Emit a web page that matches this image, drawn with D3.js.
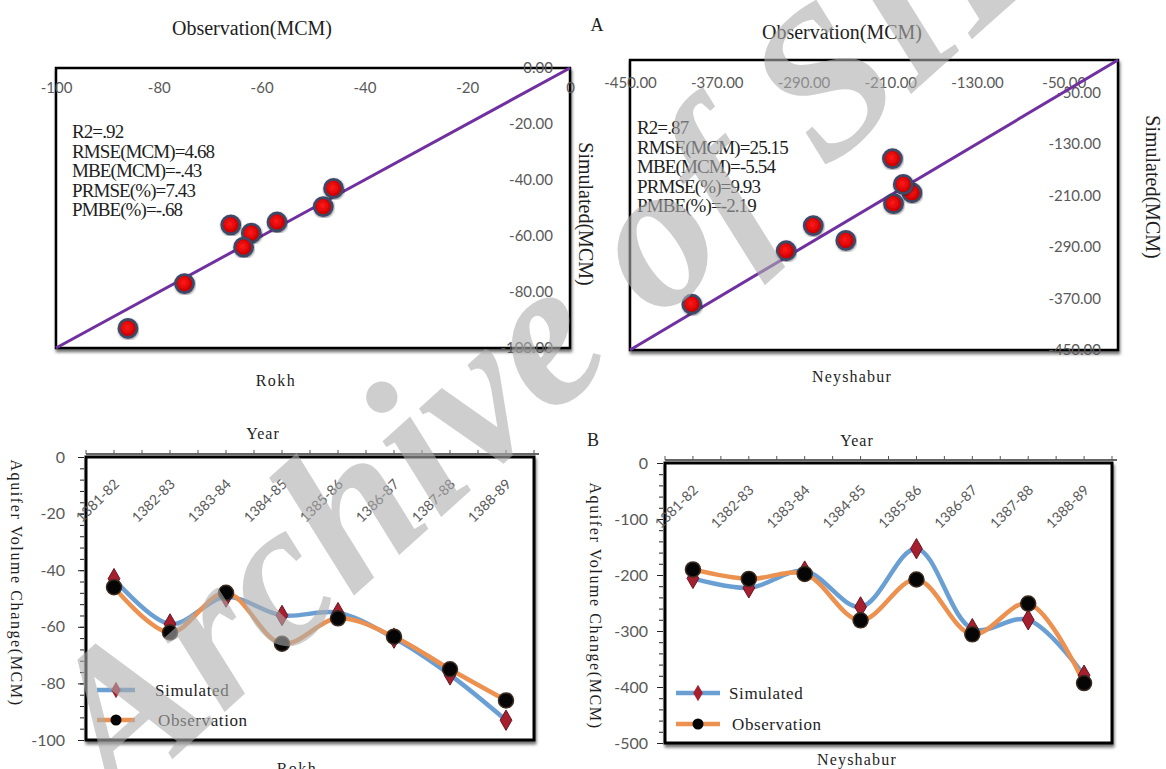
<!DOCTYPE html>
<html>
<head>
<meta charset="utf-8">
<script src="https://cdn.jsdelivr.net/npm/d3@7"></script>
<style>
  body { margin: 0; background: #fff; }
  svg { display: block; }
  .serif { font-family: "Liberation Serif", "Times New Roman", serif; fill: #1e1e1e; }
  .cat { font-family: Lato, "Liberation Sans", sans-serif; font-size: 14px; fill: #595959; }
</style>
</head>
<body>
<svg id="chart" width="1166" height="769"></svg>
<script>
// categories
var years = ["1381-82", "1382-83", "1383-84", "1384-85", "1385-86", "1386-87", "1387-88", "1388-89"];

// aquifer volume change (MCM)
var rokhSim = [-43, -59, -49.5, -56, -55, -64, -77, -93];
var rokhObs = [-46, -62, -48, -66, -57, -63.5, -75, -86];
var neySim = [-206, -223, -193, -257, -153, -296, -280, -379];
var neyObs = [-190, -207, -198, -281, -208, -306, -251, -393];

// statistics boxes
var rokhStats = ["R2=.92", "RMSE(MCM)=4.68", "MBE(MCM)=-.43", "PRMSE(%)=7.43", "PMBE(%)=-.68"];
var neyStats = ["R2=.87", "RMSE(MCM)=25.15", "MBE(MCM)=-5.54", "PRMSE(%)=9.93", "PMBE(%)=-2.19"];

// tick labels
var rokhScatterX = [-100, -80, -60, -40, -20, 0];
var rokhScatterY = [0, -20, -40, -60, -80, -100];
var neyScatterX = [-450, -370, -290, -210, -130, -50];
var neyScatterY = [-50, -130, -210, -290, -370, -450];
var rokhLineY = [0, -20, -40, -60, -80, -100];
var neyLineY = [0, -100, -200, -300, -400, -500];
var seriesNames = ["Simulated", "Observation"];

var simColor = "#6a9fd3";
var obsColor = "#ec9150";
var tickFont = 'Lato, "Liberation Sans", sans-serif';

// plain hyphen instead of d3's unicode minus
var hyphen = function(spec) {
    var f = d3.format(spec);
    return function(d) { return f(d).replace("\u2212", "-"); };
};

var svg = d3.select("#chart");
var defs = svg.append("defs");

defs.append("filter")
    .attr("id", "shadow")
    .attr("x", "-5%").attr("y", "-5%")
    .attr("width", "112%").attr("height", "115%")
    .append("feDropShadow")
    .attr("dx", 1).attr("dy", 3)
    .attr("stdDeviation", 1.8)
    .attr("flood-color", "#000")
    .attr("flood-opacity", 0.55);

defs.append("filter")
    .attr("id", "ptShadow")
    .append("feDropShadow")
    .attr("dx", 0.5).attr("dy", 1)
    .attr("stdDeviation", 1)
    .attr("flood-color", "#000")
    .attr("flood-opacity", 0.5);

var ball = defs.append("radialGradient")
    .attr("id", "redBall")
    .attr("cx", "45%").attr("cy", "45%").attr("r", "60%");
ball.append("stop").attr("offset", "0%").attr("stop-color", "#ff1a1a");
ball.append("stop").attr("offset", "70%").attr("stop-color", "#d40000");
ball.append("stop").attr("offset", "100%").attr("stop-color", "#8c0000");

var styleAxis = function(a, size) {
    a.attr("font-family", tickFont)
     .attr("font-size", size)
     .style("color", "#595959");
};

var drawScatter = function(cfg) {
    var x = d3.scaleLinear().domain(cfg.domain).range([cfg.left, cfg.right]);
    var y = d3.scaleLinear().domain(cfg.domain).range([cfg.bottom, cfg.top]);
    var g = svg.append("g");

    g.append("rect")
        .attr("x", cfg.left)
        .attr("y", cfg.top)
        .attr("width", cfg.right - cfg.left)
        .attr("height", cfg.bottom - cfg.top)
        .attr("fill", "#fff")
        .attr("stroke", "#000")
        .attr("stroke-width", 2.5)
        .attr("filter", "url(#shadow)");

    // x labels just under the top edge
    g.append("g")
        .attr("transform", "translate(0," + cfg.top + ")")
        .call(d3.axisBottom(x).tickValues(cfg.ticksX).tickFormat(cfg.fmtX).tickSize(0).tickPadding(cfg.padX))
        .call(function(a) { a.select(".domain").remove(); styleAxis(a, 15); });

    // y labels inside the right edge
    g.append("g")
        .attr("transform", "translate(" + (cfg.right - 17) + ",0)")
        .call(d3.axisLeft(y).tickValues(cfg.ticksY).tickFormat(hyphen(".2f")).tickSize(0).tickPadding(0))
        .call(function(a) { a.select(".domain").remove(); styleAxis(a, 15); });

    // 1:1 line
    g.append("line")
        .attr("x1", x(cfg.domain[0]))
        .attr("y1", y(cfg.domain[0]))
        .attr("x2", x(cfg.domain[1]))
        .attr("y2", y(cfg.domain[1]))
        .attr("stroke", "#7030a0")
        .attr("stroke-width", 3);

    g.selectAll("circle.pt")
        .data(d3.zip(cfg.obs, cfg.sim))
        .enter()
        .append("circle")
        .attr("class", "pt")
        .attr("cx", function(d) { return x(d[0]); })
        .attr("cy", function(d) { return y(d[1]); })
        .attr("r", 9)
        .attr("fill", "url(#redBall)")
        .attr("stroke", "#3e4866")
        .attr("stroke-width", 2.8)
        .attr("filter", "url(#ptShadow)");

    g.selectAll("text.stat")
        .data(cfg.stats)
        .enter()
        .append("text")
        .attr("class", "serif stat")
        .attr("x", cfg.statsX)
        .attr("y", function(d, i) { return cfg.statsY + i * 19.5; })
        .attr("font-size", 19)
        .attr("letter-spacing", -0.9)
        .text(String);
};

var drawLines = function(cfg) {
    var x = d3.scalePoint().domain(years).range([cfg.left, cfg.right]).padding(0.5);
    var y = d3.scaleLinear().domain([cfg.min, 0]).range([cfg.bottom, cfg.top]);
    var half = x.step() / 2;
    var g = svg.append("g");

    g.append("rect")
        .attr("x", cfg.left)
        .attr("y", cfg.top)
        .attr("width", cfg.right - cfg.left)
        .attr("height", cfg.bottom - cfg.top)
        .attr("fill", "#fff")
        .attr("stroke", "#000")
        .attr("stroke-width", 3)
        .attr("filter", "url(#shadow)");

    // minor ticks
    g.append("g")
        .attr("transform", "translate(" + (cfg.left - 2) + ",0)")
        .call(d3.axisLeft(y).tickValues(d3.range(cfg.min, 0.001, -cfg.min / 25)).tickSize(4).tickFormat(""))
        .call(function(a) { a.select(".domain").remove(); a.selectAll("line").attr("stroke", "#222"); });

    g.append("g")
        .attr("transform", "translate(" + (cfg.left - 2) + ",0)")
        .call(d3.axisLeft(y).tickValues(cfg.ticks).tickFormat(hyphen("d")).tickSize(6).tickPadding(cfg.padY))
        .call(function(a) {
            a.select(".domain").remove();
            a.selectAll("line").attr("stroke", "#222");
            styleAxis(a, 16);
        });

    // category axis along the top
    g.append("line")
        .attr("x1", cfg.left)
        .attr("x2", cfg.right + 5)
        .attr("y1", cfg.top - 3)
        .attr("y2", cfg.top - 3)
        .attr("stroke", "#333")
        .attr("stroke-width", 1.5);

    g.selectAll("line.tt")
        .data(d3.range(years.length * 2 + 1))
        .enter()
        .append("line")
        .attr("class", "tt")
        .attr("x1", function(i) { return x(years[0]) - half + i * half; })
        .attr("x2", function(i) { return x(years[0]) - half + i * half; })
        .attr("y1", cfg.top - 3)
        .attr("y2", cfg.top - 7)
        .attr("stroke", "#555");

    g.selectAll("text.cat")
        .data(years)
        .enter()
        .append("text")
        .attr("class", "cat")
        .attr("text-anchor", "end")
        .attr("transform", function(d) { return "translate(" + (x(d) + 6) + "," + (cfg.top + 28) + ") rotate(-45)"; })
        .text(String);

    var line = d3.line()
        .x(function(d, i) { return x(years[i]); })
        .y(function(d) { return y(d); })
        .curve(d3.curveCatmullRom.alpha(0.5));

    g.append("path")
        .datum(cfg.sim)
        .attr("d", line)
        .attr("fill", "none")
        .attr("stroke", simColor)
        .attr("stroke-width", 4.5);

    g.append("path")
        .datum(cfg.obs)
        .attr("d", line)
        .attr("fill", "none")
        .attr("stroke", obsColor)
        .attr("stroke-width", 4.5);

    var diamond = d3.symbol().type(d3.symbolDiamond).size(120);

    g.selectAll("path.sim")
        .data(cfg.sim)
        .enter()
        .append("path")
        .attr("class", "sim")
        .attr("d", diamond)
        .attr("transform", function(d, i) { return "translate(" + x(years[i]) + "," + y(d) + ")"; })
        .attr("fill", "#a51f2e")
        .attr("stroke", "#6b1420")
        .attr("stroke-width", 1);

    g.selectAll("circle.obs")
        .data(cfg.obs)
        .enter()
        .append("circle")
        .attr("class", "obs")
        .attr("cx", function(d, i) { return x(years[i]); })
        .attr("cy", function(d) { return y(d); })
        .attr("r", 7.5)
        .attr("fill", "#050505")
        .attr("stroke", "#3a2a20")
        .attr("stroke-width", 1.5);

    // legend
    var leg = g.selectAll("g.leg")
        .data(seriesNames)
        .enter()
        .append("g")
        .attr("class", "leg")
        .attr("transform", function(d, i) { return "translate(" + cfg.legX + "," + (cfg.legY + i * cfg.legGap) + ")"; });

    leg.append("line")
        .attr("x1", 0)
        .attr("x2", cfg.legW)
        .attr("stroke", function(d, i) { return i === 0 ? simColor : obsColor; })
        .attr("stroke-width", 4.5);

    leg.each(function(d, i) {
        var el = d3.select(this);
        if (i === 0) {
            el.append("path")
                .attr("d", d3.symbol().type(d3.symbolDiamond).size(80))
                .attr("transform", "translate(" + cfg.legW / 2 + ",0)")
                .attr("fill", "#a51f2e");
        } else {
            el.append("circle")
                .attr("cx", cfg.legW / 2)
                .attr("r", 5.5)
                .attr("fill", "#050505");
        }
    });

    leg.append("text")
        .attr("class", "serif")
        .attr("x", function(d, i) { return cfg.legW + cfg.legPad + i * 3; })
        .attr("dy", "0.35em")
        .attr("font-size", 17)
        .attr("letter-spacing", 0.6)
        .text(String);
};

drawScatter({
    left: 56, right: 570, top: 68, bottom: 348,
    domain: [-100, 0],
    obs: rokhObs, sim: rokhSim,
    ticksX: rokhScatterX, ticksY: rokhScatterY,
    fmtX: hyphen("d"), padX: 14,
    stats: rokhStats, statsX: 72, statsY: 138
});

drawScatter({
    left: 630, right: 1118, top: 60, bottom: 350,
    domain: [-450, 0],
    obs: neyObs, sim: neySim,
    ticksX: neyScatterX, ticksY: neyScatterY,
    fmtX: hyphen(".2f"), padX: 17,
    stats: neyStats, statsX: 637, statsY: 134
});

drawLines({
    left: 86, right: 534, top: 457, bottom: 740,
    min: -100, ticks: rokhLineY, padY: 13,
    sim: rokhSim, obs: rokhObs,
    legX: 97, legY: 690, legGap: 30, legW: 38, legPad: 20
});

drawLines({
    left: 665, right: 1112, top: 463, bottom: 743,
    min: -500, ticks: neyLineY, padY: 9,
    sim: neySim, obs: neyObs,
    legX: 676, legY: 693, legGap: 31, legW: 44, legPad: 9
});

// titles and axis names
var labels = [
    { t: "Observation(MCM)", x: 252, y: 35, s: 20, r: 0, ls: 0 },
    { t: "Observation(MCM)", x: 842, y: 39, s: 20, r: 0, ls: 0 },
    { t: "A", x: 597, y: 31, s: 18, r: 0, ls: 0 },
    { t: "B", x: 593, y: 446, s: 18, r: 0, ls: 0 },
    { t: "Simulated(MCM)", x: 579, y: 214, s: 20, r: 90, ls: 0 },
    { t: "Simulated(MCM)", x: 1146, y: 187, s: 20, r: 90, ls: 0 },
    { t: "Rokh", x: 276, y: 386, s: 16, r: 0, ls: 1.5 },
    { t: "Neyshabur", x: 852, y: 382, s: 16, r: 0, ls: 1.2 },
    { t: "Year", x: 263, y: 439, s: 16, r: 0, ls: 1 },
    { t: "Year", x: 857, y: 446, s: 16, r: 0, ls: 1 },
    { t: "Aquifer Volume Change(MCM)", x: 11, y: 583, s: 16, r: 90, ls: 1.6 },
    { t: "Aquifer Volume Change(MCM)", x: 590, y: 606, s: 16, r: 90, ls: 1.6 },
    { t: "Rokh", x: 297, y: 774, s: 16, r: 0, ls: 1.5 },
    { t: "Neyshabur", x: 857, y: 765, s: 16, r: 0, ls: 1.2 }
];

svg.selectAll("text.lbl")
    .data(labels)
    .enter()
    .append("text")
    .attr("class", "serif lbl")
    .attr("text-anchor", "middle")
    .attr("font-size", function(d) { return d.s; })
    .attr("letter-spacing", function(d) { return d.ls; })
    .attr("transform", function(d) { return "translate(" + d.x + "," + d.y + ") rotate(" + d.r + ")"; })
    .text(function(d) { return d.t; });

// watermark
svg.append("text")
    .attr("transform", "translate(118,808) rotate(-42)")
    .attr("font-family", '"Liberation Serif", serif')
    .attr("font-style", "italic")
    .attr("font-weight", "bold")
    .attr("font-size", 208)
    .attr("letter-spacing", 0.5)
    .attr("fill", "#adadad")
    .attr("fill-opacity", 0.6)
    .text("Archive of SID");
</script>
</body>
</html>
